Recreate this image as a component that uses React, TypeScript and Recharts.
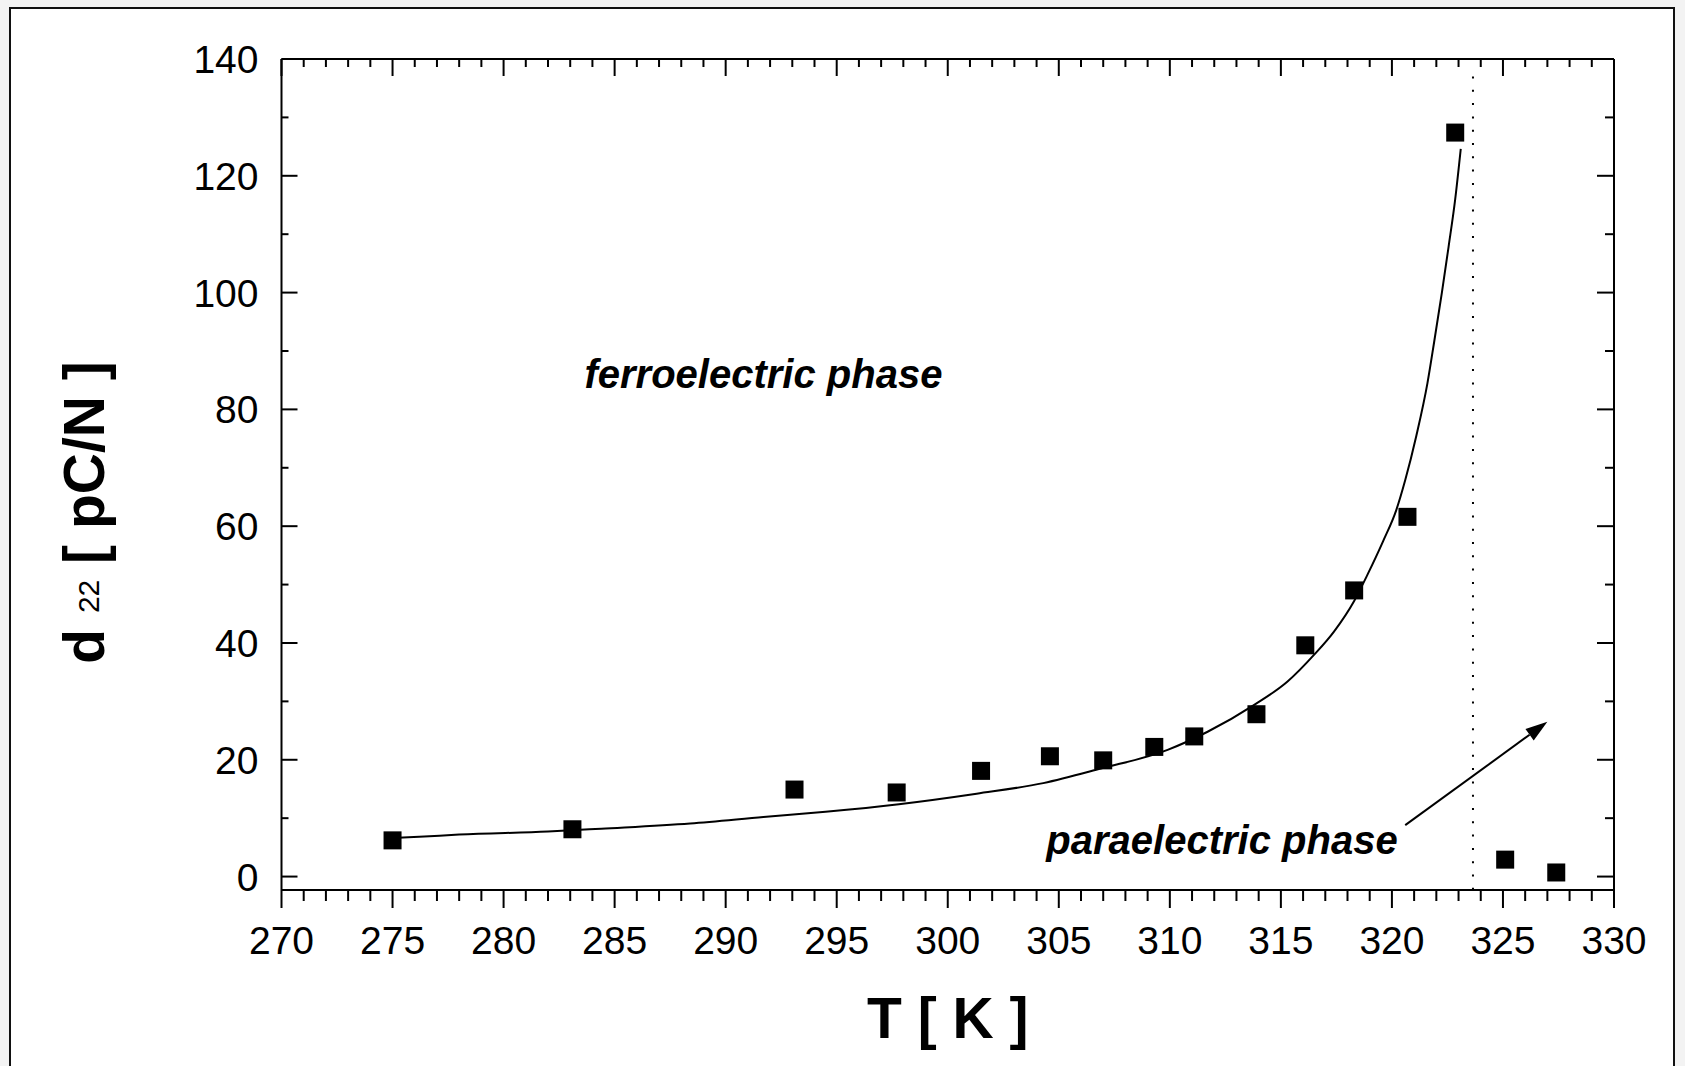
import React from 'react';
import { ComposedChart, Line, Scatter, XAxis, YAxis, ReferenceLine, ReferenceDot } from 'recharts';

// measured d22 [pC/N] against temperature [K]
const TEMP_K = [275.0, 283.1, 293.1, 297.7, 301.5, 304.6, 307.0, 309.3, 311.1, 313.9, 316.1, 318.3, 320.7, 322.85, 325.1, 327.4];
const D22 = [6.2, 8.1, 14.9, 14.4, 18.1, 20.6, 19.9, 22.2, 24.0, 27.8, 39.6, 49.0, 61.6, 127.4, 2.9, 0.7];

// fitted curve in the ferroelectric phase
const FIT_T = [275.0, 276.2, 278.0, 282.0, 284.4, 288.4, 291.7, 294.5, 297.8, 301.3, 304.3, 306.9, 309.9, 311.7, 313.8, 315.3, 316.5, 317.4, 318.3, 318.9, 319.6, 320.2, 320.6, 321.1, 321.6, 321.9, 322.25, 322.55, 322.85, 323.1];
const FIT_D = [6.6, 6.8, 7.2, 7.7, 8.2, 9.1, 10.2, 11.1, 12.4, 14.2, 16.0, 18.5, 21.7, 24.8, 29.4, 33.4, 38.0, 42.0, 47.2, 51.7, 57.4, 62.8, 67.9, 75.5, 84.5, 91.5, 100.0, 107.8, 116.0, 124.6];

// axes
const T_LABELS = [270, 275, 280, 285, 290, 295, 300, 305, 310, 315, 320, 325, 330];
const D_LABELS = [0, 20, 40, 60, 80, 100, 120, 140];
const T_TICKS = Array.from({ length: 61 }, (_, i) => 270 + i);
const D_TICKS = Array.from({ length: 15 }, (_, i) => i * 10);

// transition temperature (dotted line) and arrow ends
const T_CURIE = 323.65;
const CURIE_TOP = 137;
const ARROW_FROM = { x: 320.6, y: 8.8 };
const ARROW_TO = { x: 327.0, y: 26.5 };

// annotation anchors (text centre, baseline)
const FERRO_AT = { x: 291.7, y: 83.7 };
const PARA_AT = { x: 312.35, y: 3.9 };

const points = TEMP_K.map((x, i) => ({ x, y: D22[i] }));
const fit = FIT_T.map((x, i) => ({ x, y: FIT_D[i] }));

const FONT = '"Liberation Sans", Arial, Helvetica, sans-serif';
const TICK_FONT = 39;
const TITLE_FONT = 57;

const BottomTick = (p: any) => {
  const v = p.payload.value;
  const major = T_LABELS.includes(v);
  return (
    <g>
      <line x1={p.x} y1={p.y} x2={p.x} y2={p.y + (major ? 18 : 11)} stroke="#000" strokeWidth={2} />
      {major && (
        <text x={p.x} y={p.y + 64} textAnchor="middle" fontSize={TICK_FONT} fontFamily={FONT} fill="#000">
          {v}
        </text>
      )}
    </g>
  );
};

const TopTick = (p: any) => {
  const major = T_LABELS.includes(p.payload.value);
  const x = p.payload.coordinate ?? p.x;
  return (
    <g>
      <line x1={x} y1={p.y} x2={x} y2={p.y + (major ? 17 : 8)} stroke="#000" strokeWidth={2} />
    </g>
  );
};

const LeftTick = (p: any) => {
  const v = p.payload.value;
  const major = D_LABELS.includes(v);
  return (
    <g>
      <line x1={p.x} y1={p.y} x2={p.x + (major ? 16 : 7)} y2={p.y} stroke="#000" strokeWidth={2} />
      {major && (
        <text x={p.x - 23} y={p.y + 14} textAnchor="end" fontSize={TICK_FONT} fontFamily={FONT} fill="#000">
          {v}
        </text>
      )}
    </g>
  );
};

const RightTick = (p: any) => {
  const major = D_LABELS.includes(p.payload.value);
  return <line x1={p.x} y1={p.y} x2={p.x - (major ? 17 : 9)} y2={p.y} stroke="#000" strokeWidth={2} />;
};

const Square = (p: any) => <rect x={p.cx - 9} y={p.cy - 9} width={18} height={18} fill="#000" />;

const Arrow = (p: any) => {
  const { x1, y1, x2, y2 } = p;
  const a = Math.atan2(y2 - y1, x2 - x1);
  const len = 22;
  const half = 7;
  const bx = x2 - len * Math.cos(a);
  const by = y2 - len * Math.sin(a);
  const nx = -Math.sin(a) * half;
  const ny = Math.cos(a) * half;
  return (
    <g>
      <line x1={x1} y1={y1} x2={bx} y2={by} stroke="#000" strokeWidth={2} />
      <polygon points={`${x2},${y2} ${bx + nx},${by + ny} ${bx - nx},${by - ny}`} fill="#000" />
    </g>
  );
};

const phaseText = (label: string) => (p: any) => (
  <text
    x={p.cx}
    y={p.cy}
    textAnchor="middle"
    fontSize={40}
    fontWeight="bold"
    fontStyle="italic"
    fontFamily={FONT}
    fill="#000"
  >
    {label}
  </text>
);

const XTitle = (p: any) => {
  const vb = p.viewBox;
  return (
    <text x={vb.x + vb.width / 2} y={vb.y + 148} textAnchor="middle" fontSize={TITLE_FONT} fontWeight="bold" fontFamily={FONT} fill="#000">
      T [ K ]
    </text>
  );
};

const YTitle = (p: any) => {
  const vb = p.viewBox;
  const cx = vb.x - 77.5;
  const cy = vb.y + vb.height / 2 + 38;
  return (
    <text
      x={cx}
      y={cy}
      transform={`rotate(-90 ${cx} ${cy})`}
      textAnchor="middle"
      fontSize={TITLE_FONT}
      fontWeight="bold"
      fontFamily={FONT}
      fill="#000"
    >
      <tspan>d </tspan>
      <tspan fontSize={30} fontWeight="normal" dy={-5}>22</tspan>
      <tspan dy={5}> [ pC/N ]</tspan>
    </text>
  );
};

export default function App() {
  return (
    <div style={{ position: 'absolute', left: 0, top: 0, width: 1685, height: 1066, background: '#f3f3f3', overflow: 'hidden' }}>
      <div
        style={{
          position: 'absolute',
          left: 9,
          top: 7,
          width: 1666,
          height: 1100,
          border: '2px solid #111',
          boxSizing: 'border-box',
          background: '#fff',
        }}
      />
      <div style={{ position: 'absolute', left: 0, top: 0 }}>
        <ComposedChart width={1685} height={1066} margin={{ top: 49, right: 61, bottom: 76, left: 181.5 }}>
          <XAxis
            xAxisId="b"
            dataKey="x"
            type="number"
            domain={[270, 330]}
            ticks={T_TICKS}
            interval={0}
            allowDataOverflow
            height={100}
            tickSize={0}
            tickMargin={0}
            tickLine={false}
            axisLine={{ stroke: '#000', strokeWidth: 2 }}
            tick={(p: any) => <BottomTick {...p} />}
            label={{ content: (p: any) => <XTitle {...p} /> }}
          />
          <XAxis
            xAxisId="t"
            dataKey="x"
            orientation="top"
            type="number"
            domain={[270, 330]}
            ticks={T_TICKS}
            interval={0}
            allowDataOverflow
            height={10}
            tickSize={0}
            tickMargin={0}
            tickLine={false}
            axisLine={{ stroke: '#000', strokeWidth: 2 }}
            tick={(p: any) => <TopTick {...p} />}
          />
          <YAxis
            yAxisId="l"
            dataKey="y"
            type="number"
            domain={[-2.3, 140]}
            ticks={D_TICKS}
            interval={0}
            allowDataOverflow
            width={100}
            tickSize={0}
            tickMargin={0}
            tickLine={false}
            axisLine={{ stroke: '#000', strokeWidth: 2 }}
            tick={(p: any) => <LeftTick {...p} />}
            label={{ content: (p: any) => <YTitle {...p} /> }}
          />
          <YAxis
            yAxisId="r"
            orientation="right"
            type="number"
            domain={[-2.3, 140]}
            ticks={D_TICKS}
            interval={0}
            allowDataOverflow
            width={10}
            tickSize={0}
            tickMargin={0}
            tickLine={false}
            axisLine={{ stroke: '#000', strokeWidth: 2 }}
            tick={(p: any) => <RightTick {...p} />}
          />
          <ReferenceLine
            xAxisId="b"
            yAxisId="l"
            segment={[{ x: T_CURIE, y: CURIE_TOP }, { x: T_CURIE, y: -2.3 }]}
            stroke="#000"
            strokeWidth={2}
            strokeDasharray="2 11.3"
          />
          <ReferenceLine
            xAxisId="b"
            yAxisId="l"
            segment={[ARROW_FROM, ARROW_TO]}
            shape={(p: any) => <Arrow {...p} />}
          />
          <Line
            xAxisId="b"
            yAxisId="l"
            data={fit}
            dataKey="y"
            type="monotone"
            stroke="#000"
            strokeWidth={2}
            dot={false}
            activeDot={false}
            isAnimationActive={false}
          />
          <Scatter
            xAxisId="b"
            yAxisId="l"
            data={points}
            dataKey="y"
            shape={(p: any) => <Square {...p} />}
            isAnimationActive={false}
          />
          <ReferenceDot xAxisId="b" yAxisId="l" x={FERRO_AT.x} y={FERRO_AT.y} r={1} shape={phaseText('ferroelectric phase')} />
          <ReferenceDot xAxisId="b" yAxisId="l" x={PARA_AT.x} y={PARA_AT.y} r={1} shape={phaseText('paraelectric phase')} />
        </ComposedChart>
      </div>
    </div>
  );
}
